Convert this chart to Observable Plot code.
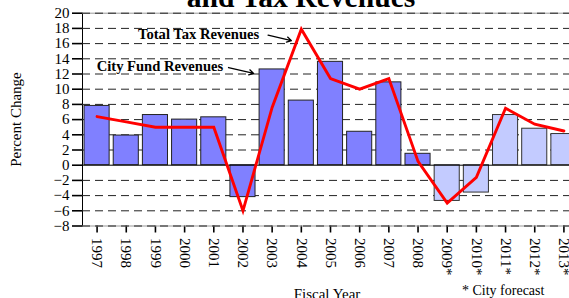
<!DOCTYPE html>
<html><head><meta charset="utf-8">
<script src="https://cdn.jsdelivr.net/npm/d3@7"></script>
<script src="https://cdn.jsdelivr.net/npm/@observablehq/plot@0.6"></script>
<style>
html,body{margin:0;padding:0;background:#fff;overflow:hidden;width:569px;height:298px}
#chart svg{max-width:none!important;display:block}
g[aria-label^="y-axis"], g[aria-label^="x-axis"]{stroke-width:1.6}
g[aria-label^="y-axis"] text, g[aria-label^="x-axis"] text{font-family:'Liberation Serif','Times New Roman',Times,serif!important;font-size:15px!important;font-variant:normal!important}
</style></head><body><div id="chart"></div>
<script>
const years = ["1997","1998","1999","2000","2001","2002","2003","2004","2005","2006","2007","2008","2009*","2010*","2011*","2012*","2013*"];
const forecast = [false,false,false,false,false,false,false,false,false,false,false,false,true,true,true,true,true];
const cityFund = [7.8, 3.9, 6.6, 6.0, 6.3, -4.2, 12.6, 8.5, 13.6, 4.4, 10.9, 1.5, -4.7, -3.6, 6.6, 4.8, 4.1];
const totalTax = [6.4, 5.7, 5.0, 5.0, 5.0, -6.0, 7.6, 17.9, 11.4, 10.0, 11.4, 0.5, -5.0, -1.6, 7.5, 5.4, 4.5];
const yTicks = [-8, -6, -4, -2, 0, 2, 4, 6, 8, 10, 12, 14, 16, 18, 20];
const seriesLabels = ["Total Tax Revenues", "City Fund Revenues"];
const titleText = "and Tax Revenues";
const yLabel = "Percent Change";
const xLabel = "Fiscal Year";
const footnote = "* City forecast";

const data = years.map((year, i) => ({year, fund: cityFund[i], tax: totalTax[i], forecast: forecast[i]}));
const gridTicks = yTicks.filter(t => t !== 0);
const font = "'Liberation Serif', 'Times New Roman', Times, serif";

const labels = [
  {label: seriesLabels[0], year: "2000", v: 17.2, dx: 14},
  {label: seriesLabels[1], year: "1999", v: 13.0, dx: 4.5}
];
const arrows = [
  {a: "2003", b: "2004", v1: 17.2, v2: 16.3},
  {a: "2002", b: "2003", v1: 12.9, v2: 12.0}
];

const plot = Plot.plot({
  width: 580, height: 298,
  marginLeft: 82, marginRight: 2, marginTop: 12.7, marginBottom: 72.5,
  style: {fontFamily: font, fontSize: "15px", background: "white", color: "black", maxWidth: "none"},
  x: {domain: years, paddingInner: 0.14, paddingOuter: 0.07, round: false, tickRotate: 90, tickSize: 7, tickPadding: 5, label: null},
  y: {domain: [-8, 20], ticks: yTicks, tickSize: 10, tickPadding: 3, line: true, label: null},
  marks: [
    Plot.ruleY([-8, 20], {stroke: "#999"}),
    Plot.ruleY(gridTicks, {stroke: "#222", strokeDasharray: "8,5"}),
    Plot.barY(data.filter(d => !d.forecast), {x: "year", y: "fund", fill: "#8080ff", stroke: "#222", strokeWidth: 1}),
    Plot.barY(data.filter(d => d.forecast), {x: "year", y: "fund", fill: "#c3cbff", stroke: "#333", strokeWidth: 1}),
    Plot.ruleY([0], {stroke: "#000"}),
    Plot.lineY(data, {x: "year", y: "tax", stroke: "#ff0000", strokeWidth: 2.9, strokeLinejoin: "miter", strokeMiterlimit: 10}),
    Plot.text([labels[0]], {x: "year", y: "v", text: "label", dx: labels[0].dx, fontWeight: "bold", fontSize: 14.6}),
    Plot.text([labels[1]], {x: "year", y: "v", text: "label", dx: labels[1].dx, fontWeight: "bold", fontSize: 14.6}),
    Plot.arrow([arrows[0]], {x1: "a", x2: "b", y1: "v1", y2: "v2", dx: -7, insetStart: 3, insetEnd: 3, headLength: 6, stroke: "#000", strokeWidth: 1.3}),
    Plot.arrow([arrows[1]], {x1: "a", x2: "b", y1: "v1", y2: "v2", dx: -16, insetStart: 1.6, insetEnd: 2.6, headLength: 6, stroke: "#000", strokeWidth: 1.3})
  ]
});

const svg = d3.select(plot);
svg.append("text").attr("x", 301).attr("y", 6.5).attr("text-anchor", "middle")
  .attr("font-weight", "bold").attr("font-size", 29.6).attr("font-family", font).text(titleText);
svg.append("text").attr("transform", "translate(21,119.5) rotate(-90)").attr("text-anchor", "middle")
  .attr("font-size", 15).attr("font-family", font).text(yLabel);
svg.append("text").attr("x", 327).attr("y", 298.5).attr("text-anchor", "middle")
  .attr("font-size", 15).attr("font-family", font).text(xLabel);
svg.append("text").attr("x", 462).attr("y", 295).attr("text-anchor", "start")
  .attr("font-size", 14).attr("font-family", font).text(footnote);

document.getElementById("chart").appendChild(plot);
</script></body></html>
